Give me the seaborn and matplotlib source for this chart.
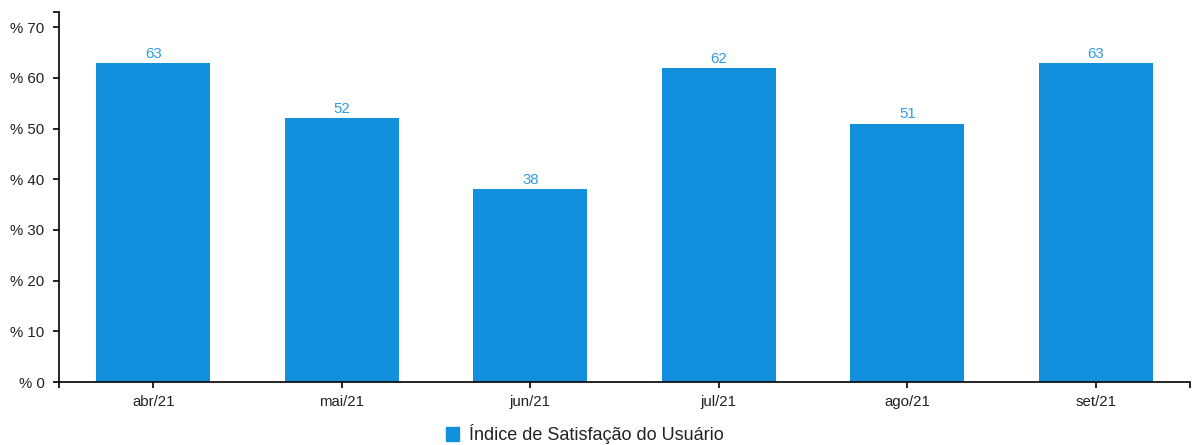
import matplotlib
matplotlib.use("Agg")
import matplotlib.pyplot as plt
import seaborn as sns
import pandas as pd
from matplotlib.patches import Patch
from matplotlib.ticker import FuncFormatter

categories = ["abr/21", "mai/21", "jun/21", "jul/21", "ago/21", "set/21"]
values = [63, 52, 38, 62, 51, 63]
series_name = "Índice de Satisfação do Usuário"
y_ticks = [0, 10, 20, 30, 40, 50, 60, 70]

sns.set_style("white")
plt.rcParams["font.family"] = ["Liberation Sans", "DejaVu Sans"]

bar_color = "#1290DE"
label_color = "#2F9BE3"
text_color = "#222222"

df = pd.DataFrame({"mes": categories, "valor": values})

fig = plt.figure(figsize=(11.92, 4.45), dpi=100)
ax = fig.add_axes([59 / 1192, 63 / 445, (1190 - 59) / 1192, 370 / 445])

sns.barplot(data=df, x="mes", y="valor", color=bar_color, width=0.605,
            saturation=1, linewidth=0, edgecolor="none", ax=ax)

ax.set_xlim(-0.5, len(categories) - 0.5)
ax.set_ylim(0, 73)
ax.set_yticks(y_ticks)
ax.yaxis.set_major_formatter(FuncFormatter(lambda v, p: f"% {int(v)}"))
ax.set_yticks([73], minor=True)
ax.set_xticks([-0.5, len(categories) - 0.5], minor=True)

ax.set_xlabel("")
ax.set_ylabel("")

for s in ["top", "right"]:
    ax.spines[s].set_visible(False)
for s in ["left", "bottom"]:
    ax.spines[s].set_color("#000000")
    ax.spines[s].set_linewidth(1.2)

ax.tick_params(axis="both", which="both", direction="out", length=4.5,
               width=1.2, color="#000000", labelsize=10.8, labelcolor=text_color,
               left=True, bottom=True)
ax.tick_params(axis="y", which="major", pad=6)
ax.tick_params(axis="x", which="major", pad=5)

for c in ax.containers:
    ax.bar_label(c, labels=[str(v) for v in values], padding=1.5,
                 color=label_color, fontsize=10.8)

handle = Patch(facecolor=bar_color, edgecolor=bar_color)
fig.legend(handles=[handle], labels=[series_name], loc="lower center",
           bbox_to_anchor=(585 / 1192, -0.035), frameon=False, fontsize=13,
           handlelength=0.75, handleheight=0.75, handletextpad=0.55,
           labelcolor=text_color)

fig.savefig("out.png", dpi=100)
